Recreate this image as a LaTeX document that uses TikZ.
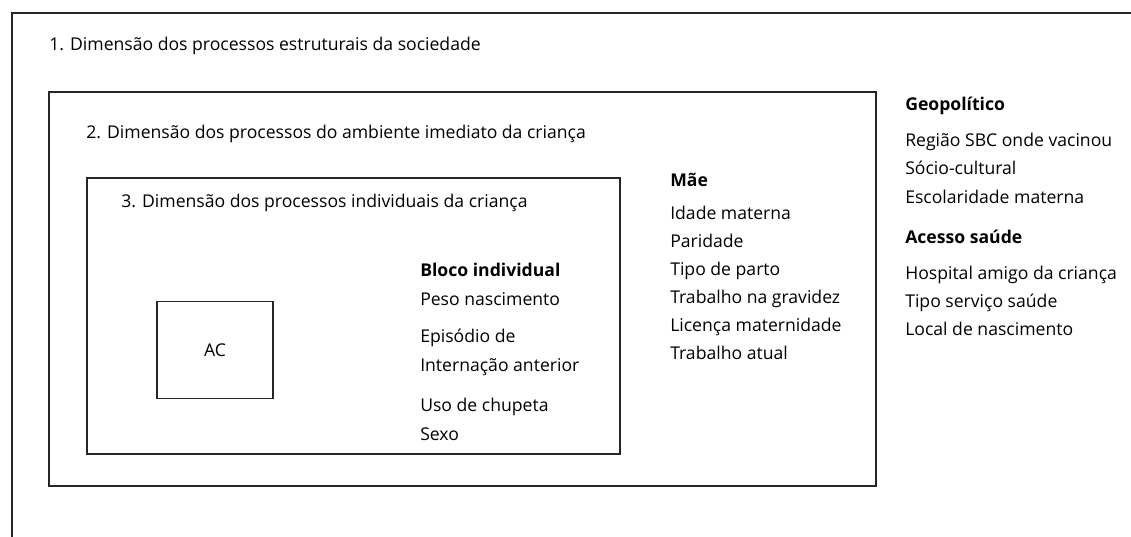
\documentclass[tikz,border=0pt]{standalone}
\usepackage{fontspec}
\setmainfont{Open Sans}
\usetikzlibrary{positioning}

\begin{document}
\begin{tikzpicture}[x=0.75pt,y=-0.75pt,
    frame/.style={draw=black!85,line width=1pt},
    txt/.style={anchor=base west,inner sep=0pt,font=\fontsize{13.2}{15}\selectfont},
    head/.style={txt,font=\fontsize{13.2}{15}\selectfont\bfseries}]
  \useasboundingbox (0,0) rectangle (1131,536);

  % nested dimension boxes
  \draw[frame] (12,540) -- (12,13) -- (1135,13);
  \draw[frame] (49,92) rectangle (876,486);
  \draw[frame] (87,178) rectangle (620,454);
  \node[frame,minimum width=87pt,minimum height=72.5pt,font=\fontsize{13.2}{15}\selectfont] (ac) at (215,350) {AC};

  \node[txt] (dim1) at (49,50) {1. Dimensão dos processos estruturais da sociedade};
  \node[txt] (dim2) at (86,138) {2. Dimensão dos processos do ambiente imediato da criança};
  \node[txt] (dim3) at (121,207) {3. Dimensão dos processos individuais da criança};

  \begin{scope}
    \node[head] (bloco) at (420,276) {Bloco individual};
    \node[txt] (peso) at (420,305) {Peso nascimento};
    \node[txt] (episodio) at (420,342) {Episódio de};
    \node[txt] (internacao) at (420,371) {Internação anterior};
    \node[txt] (chupeta) at (420,411) {Uso de chupeta};
    \node[txt] (sexo) at (420,440) {Sexo};
  \end{scope}

  \begin{scope}
    \node[head] (mae) at (670,186) {Mãe};
    \node[txt] (idade) at (670,219) {Idade materna};
    \node[txt] (paridade) at (670,247) {Paridade};
    \node[txt] (parto) at (670,275) {Tipo de parto};
    \node[txt] (gravidez) at (670,303) {Trabalho na gravidez};
    \node[txt] (licenca) at (670,331) {Licença maternidade};
    \node[txt] (atual) at (670,359) {Trabalho atual};
  \end{scope}

  \begin{scope}
    \node[head] (geo) at (905,110) {Geopolítico};
    \node[txt] (regiao) at (905,146) {Região SBC onde vacinou};
    \node[txt] (socio) at (905,174) {Sócio-cultural};
    \node[txt] (escol) at (905,203) {Escolaridade materna};
    \node[head] (acesso) at (905,243) {Acesso saúde};
    \node[txt] (hospital) at (905,279) {Hospital amigo da criança};
    \node[txt] (servico) at (905,307) {Tipo serviço saúde};
    \node[txt] (local) at (905,335) {Local de nascimento};
  \end{scope}
\end{tikzpicture}
\end{document}
